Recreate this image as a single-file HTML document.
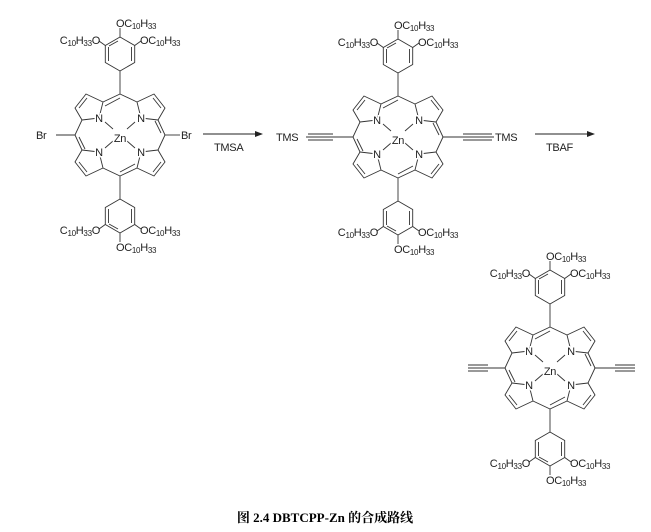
<!DOCTYPE html>
<html><head><meta charset="utf-8"><style>
html,body{margin:0;padding:0;background:#fff;width:651px;height:532px;overflow:hidden}
svg{display:block}
text{font-family:"Liberation Sans",sans-serif;font-size:11px;fill:#222;letter-spacing:-0.3px}
.cap{font-family:"Liberation Serif","Noto Serif CJK SC",serif;font-size:13px;font-weight:bold;fill:#000;letter-spacing:0}
.lbl{paint-order:stroke;stroke:#fff;stroke-width:3px}
</style></head><body>
<svg width="651" height="532" viewBox="0 0 651 532" xmlns="http://www.w3.org/2000/svg">
<defs>
<g id="q" fill="none" stroke="#333" stroke-width="0.9">
<path d="M-17,-33 L-34,-41 L-45,-27 L-38,-15"/>
<path d="M-21,-17 L-38,-15 M-21,-17 L-17,-33"/>
<line x1="-33" y1="-37" x2="-41" y2="-27"/>
<line x1="-17" y1="-33" x2="0" y2="-41"/>
<line x1="-38" y1="-15" x2="-45" y2="0"/>
<line x1="-15" y1="-13" x2="-7" y2="-6"/>
</g>
<g id="core">
<use href="#q"/>
<use href="#q" transform="scale(-1,1)"/>
<use href="#q" transform="scale(1,-1)"/>
<use href="#q" transform="scale(-1,-1)"/>
<g stroke="#333" stroke-width="0.9"><line x1="-15" y1="-29" x2="0" y2="-37"/><line x1="15" y1="29" x2="0" y2="37"/><line x1="-41" y1="2" x2="-35" y2="14"/><line x1="41" y1="-2" x2="35" y2="-14"/></g>
</g>
<g id="ar" fill="none" stroke="#333" stroke-width="0.9">
<line x1="0" y1="-41" x2="0" y2="-64"/>
<path d="M0,-64 L14.7,-72.5 L14.7,-89.5 L0,-98 L-14.7,-89.5 L-14.7,-72.5 Z"/>
<line x1="11.5" y1="-74" x2="11.5" y2="-88"/><line x1="-11.5" y1="-74" x2="-11.5" y2="-88"/><line x1="-2" y1="-94" x2="-11" y2="-89"/>
<line x1="0" y1="-98" x2="0" y2="-107"/>
<line x1="14.7" y1="-89.5" x2="21" y2="-94"/><line x1="-14.7" y1="-89.5" x2="-21" y2="-94"/>
</g>
<g id="mol"><use href="#core"/><use href="#ar"/><use href="#ar" transform="scale(1,-1)"/></g>
</defs>

<!-- molecule 1 -->
<g transform="translate(120,135)">
<use href="#mol"/>
<line x1="-45" y1="0" x2="-64" y2="0" stroke="#333" stroke-width="0.9"/>
<line x1="45" y1="0" x2="60" y2="0" stroke="#333" stroke-width="0.9"/>
<text x="-84" y="4">Br</text><text x="61" y="4">Br</text>
<text class="lbl" x="-21" y="-13" text-anchor="middle">N</text><text class="lbl" x="21" y="-13" text-anchor="middle">N</text>
<text class="lbl" x="-21" y="21" text-anchor="middle">N</text><text class="lbl" x="21" y="21" text-anchor="middle">N</text>
<text class="lbl" x="0" y="7" text-anchor="middle">Zn</text>
<text x="-4" y="-108">OC<tspan font-size="8" dy="2">10</tspan><tspan dy="-2">H</tspan><tspan font-size="8" dy="2">33</tspan></text>
<text x="-20" y="-91" text-anchor="end">C<tspan font-size="8" dy="2">10</tspan><tspan dy="-2">H</tspan><tspan font-size="8" dy="2">33</tspan><tspan dy="-2">O</tspan></text>
<text x="20" y="-91">OC<tspan font-size="8" dy="2">10</tspan><tspan dy="-2">H</tspan><tspan font-size="8" dy="2">33</tspan></text>
<text x="-20" y="99" text-anchor="end">C<tspan font-size="8" dy="2">10</tspan><tspan dy="-2">H</tspan><tspan font-size="8" dy="2">33</tspan><tspan dy="-2">O</tspan></text>
<text x="20" y="99">OC<tspan font-size="8" dy="2">10</tspan><tspan dy="-2">H</tspan><tspan font-size="8" dy="2">33</tspan></text>
<text x="-4" y="116">OC<tspan font-size="8" dy="2">10</tspan><tspan dy="-2">H</tspan><tspan font-size="8" dy="2">33</tspan></text>
</g>

<!-- arrow 1 -->
<line x1="203" y1="134" x2="257" y2="134" stroke="#222" stroke-width="1"/>
<path d="M263,134 L255,131 L255,137 Z" fill="#222"/>
<text x="214" y="151">TMSA</text>

<!-- molecule 2 -->
<g transform="translate(398,137)">
<use href="#mol"/>
<g stroke="#333" stroke-width="0.9">
<line x1="-45" y1="0" x2="-92" y2="0"/><line x1="-65" y1="-3" x2="-90" y2="-3"/><line x1="-65" y1="3" x2="-90" y2="3"/>
<line x1="45" y1="0" x2="96" y2="0"/><line x1="65" y1="-3" x2="94" y2="-3"/><line x1="65" y1="3" x2="94" y2="3"/>
</g>
<text x="-122" y="4">TMS</text><text x="97" y="4">TMS</text>
<text class="lbl" x="-21" y="-13" text-anchor="middle">N</text><text class="lbl" x="21" y="-13" text-anchor="middle">N</text>
<text class="lbl" x="-21" y="21" text-anchor="middle">N</text><text class="lbl" x="21" y="21" text-anchor="middle">N</text>
<text class="lbl" x="0" y="7" text-anchor="middle">Zn</text>
<text x="-4" y="-108">OC<tspan font-size="8" dy="2">10</tspan><tspan dy="-2">H</tspan><tspan font-size="8" dy="2">33</tspan></text>
<text x="-20" y="-91" text-anchor="end">C<tspan font-size="8" dy="2">10</tspan><tspan dy="-2">H</tspan><tspan font-size="8" dy="2">33</tspan><tspan dy="-2">O</tspan></text>
<text x="20" y="-91">OC<tspan font-size="8" dy="2">10</tspan><tspan dy="-2">H</tspan><tspan font-size="8" dy="2">33</tspan></text>
<text x="-20" y="99" text-anchor="end">C<tspan font-size="8" dy="2">10</tspan><tspan dy="-2">H</tspan><tspan font-size="8" dy="2">33</tspan><tspan dy="-2">O</tspan></text>
<text x="20" y="99">OC<tspan font-size="8" dy="2">10</tspan><tspan dy="-2">H</tspan><tspan font-size="8" dy="2">33</tspan></text>
<text x="-4" y="116">OC<tspan font-size="8" dy="2">10</tspan><tspan dy="-2">H</tspan><tspan font-size="8" dy="2">33</tspan></text>
</g>

<!-- arrow 2 -->
<line x1="535" y1="134" x2="589" y2="134" stroke="#222" stroke-width="1"/>
<path d="M595,134 L587,131 L587,137 Z" fill="#222"/>
<text x="546" y="151">TBAF</text>

<!-- molecule 3 -->
<g transform="translate(550,368)">
<use href="#mol"/>
<g stroke="#333" stroke-width="0.9">
<line x1="-45" y1="0" x2="-82" y2="0"/><line x1="-62" y1="-3" x2="-82" y2="-3"/><line x1="-62" y1="3" x2="-82" y2="3"/>
<line x1="45" y1="0" x2="85" y2="0"/><line x1="65" y1="-3" x2="85" y2="-3"/><line x1="65" y1="3" x2="85" y2="3"/>
</g>
<text class="lbl" x="-21" y="-13" text-anchor="middle">N</text><text class="lbl" x="21" y="-13" text-anchor="middle">N</text>
<text class="lbl" x="-21" y="21" text-anchor="middle">N</text><text class="lbl" x="21" y="21" text-anchor="middle">N</text>
<text class="lbl" x="0" y="7" text-anchor="middle">Zn</text>
<text x="-4" y="-108">OC<tspan font-size="8" dy="2">10</tspan><tspan dy="-2">H</tspan><tspan font-size="8" dy="2">33</tspan></text>
<text x="-20" y="-91" text-anchor="end">C<tspan font-size="8" dy="2">10</tspan><tspan dy="-2">H</tspan><tspan font-size="8" dy="2">33</tspan><tspan dy="-2">O</tspan></text>
<text x="20" y="-91">OC<tspan font-size="8" dy="2">10</tspan><tspan dy="-2">H</tspan><tspan font-size="8" dy="2">33</tspan></text>
<text x="-20" y="99" text-anchor="end">C<tspan font-size="8" dy="2">10</tspan><tspan dy="-2">H</tspan><tspan font-size="8" dy="2">33</tspan><tspan dy="-2">O</tspan></text>
<text x="20" y="99">OC<tspan font-size="8" dy="2">10</tspan><tspan dy="-2">H</tspan><tspan font-size="8" dy="2">33</tspan></text>
<text x="-4" y="116">OC<tspan font-size="8" dy="2">10</tspan><tspan dy="-2">H</tspan><tspan font-size="8" dy="2">33</tspan></text>
</g>

<text class="cap" x="325" y="522" text-anchor="middle">图 2.4 DBTCPP-Zn 的合成路线</text>
</svg>
</body></html>
